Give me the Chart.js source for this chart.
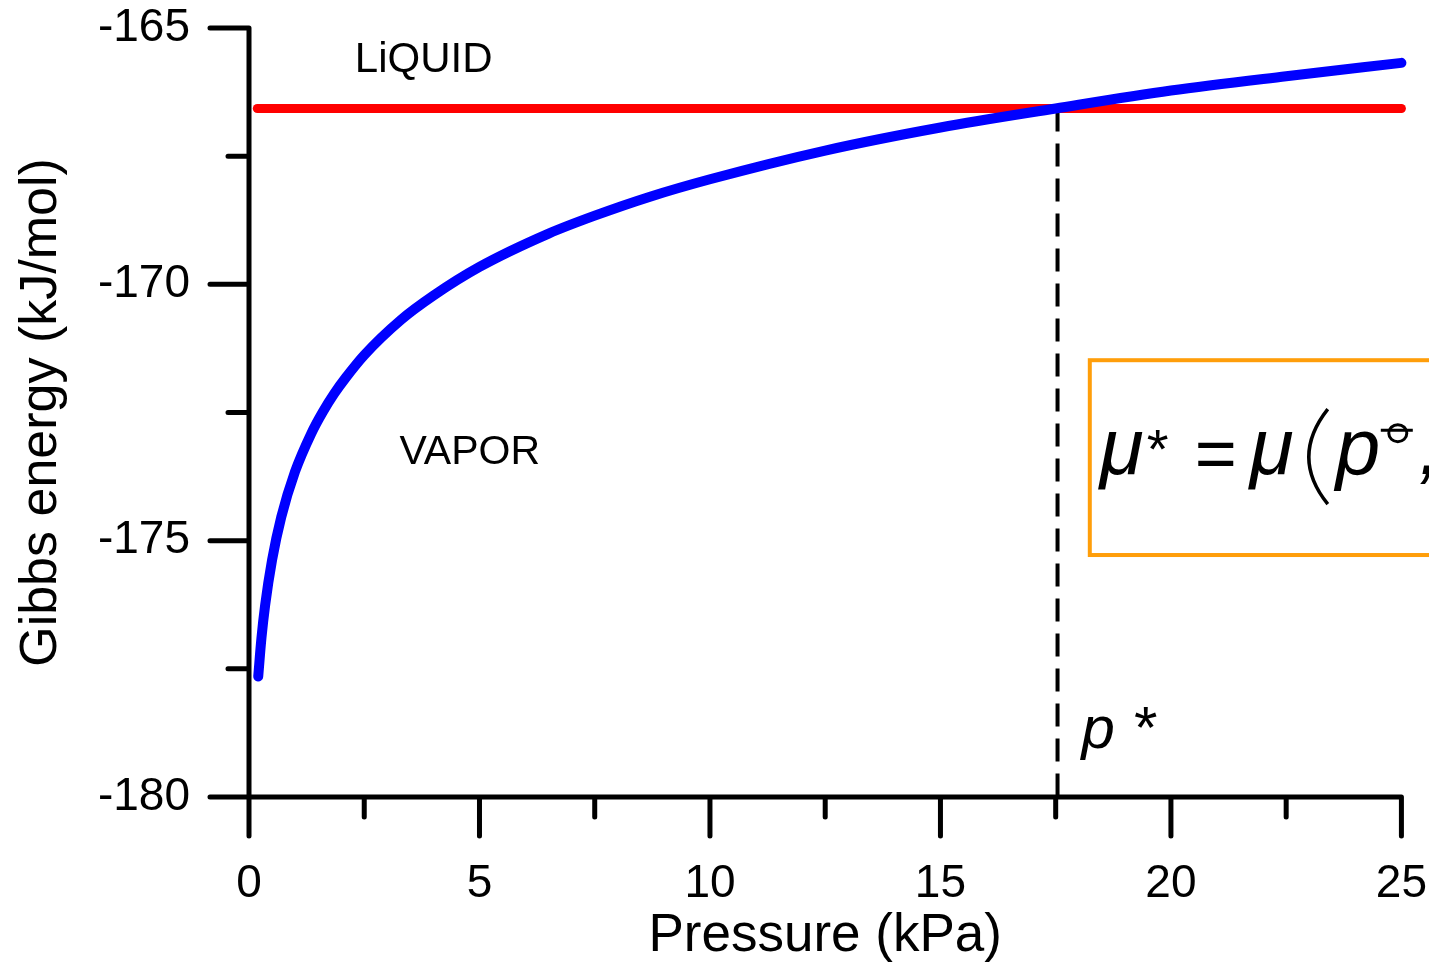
<!DOCTYPE html>
<html>
<head>
<meta charset="utf-8">
<script src="https://cdn.jsdelivr.net/npm/chart.js@4"></script>
<style>
  body { margin: 0; background: #fff; }
  #wrap { width: 1429px; height: 963px; }
</style>
</head>
<body>
<div id="wrap"><canvas id="gibbsChart" width="1429" height="963"></canvas></div>
<script>
// values
const vaporP = [0.2, 0.27, 0.35, 0.5, 0.7, 1, 1.35, 1.6, 1.85, 2.1, 2.5, 3.3, 4, 5, 6.5, 7.5, 8.7, 10, 12.5, 15, 17.5, 20, 22.5, 25];
const vaporG = [-177.65, -176.9, -176.26, -175.38, -174.54, -173.65, -172.91, -172.49, -172.13, -171.82, -171.38, -170.69, -170.22, -169.66, -169.01, -168.66, -168.29, -167.95, -167.39, -166.94, -166.57, -166.22, -165.94, -165.68];
const liquidP = [0.18, 25];
const liquidG = [-166.57, -166.57];
const pStar = 17.54;
const xRange = [0, 25];
const yRange = [-180, -165];
const majorStep = 5;
const minorStep = 2.5;

const FONT = '"Liberation Sans", Arial, sans-serif';

// axes lines + major/minor ticks (different lengths)
const axisPlugin = {
    id: 'axisPlugin',
    beforeDatasetsDraw(chart) {
        const { ctx, scales: { x, y } } = chart;
        const x0 = x.getPixelForValue(xRange[0]);
        const x1 = x.getPixelForValue(xRange[1]);
        const y0 = y.getPixelForValue(yRange[0]);
        const y1 = y.getPixelForValue(yRange[1]);
        ctx.save();
        ctx.strokeStyle = '#000';
        ctx.lineWidth = 5;
        ctx.lineCap = 'round';
        ctx.lineJoin = 'round';
        ctx.beginPath();
        ctx.moveTo(x0, y1);
        ctx.lineTo(x0, y0);
        ctx.lineTo(x1, y0);
        x.ticks.forEach(t => {
            const px = x.getPixelForValue(t.value);
            const len = Math.abs(t.value % majorStep) < 1e-6 ? 39 : 20;
            ctx.moveTo(px, y0);
            ctx.lineTo(px, y0 + len);
        });
        y.ticks.forEach(t => {
            const py = y.getPixelForValue(t.value);
            const len = Math.abs(t.value % majorStep) < 1e-6 ? 39 : 21;
            ctx.moveTo(x0, py);
            ctx.lineTo(x0 - len, py);
        });
        ctx.stroke();
        ctx.restore();
    }
};

// text labels and the formula box
const notesPlugin = {
    id: 'notesPlugin',
    afterDatasetsDraw(chart) {
        const { ctx, scales: { x, y } } = chart;
        ctx.save();
        ctx.fillStyle = '#000';
        ctx.textAlign = 'center';
        ctx.textBaseline = 'middle';
        ctx.font = '42px ' + FONT;
        ctx.fillText('LiQUID', x.getPixelForValue(3.79), y.getPixelForValue(-165.64));
        ctx.font = '41px ' + FONT;
        ctx.fillText('VAPOR', x.getPixelForValue(4.79), y.getPixelForValue(-173.29));

        // p* label
        ctx.textAlign = 'left';
        ctx.textBaseline = 'alphabetic';
        ctx.font = 'italic 60px ' + FONT;
        ctx.fillText('p *', x.getPixelForValue(18.06), y.getPixelForValue(-179.04));

        // orange box
        const bx = x.getPixelForValue(18.24);
        const by = y.getPixelForValue(-171.48);
        const bb = y.getPixelForValue(-175.28);
        ctx.strokeStyle = 'rgb(255,158,10)';
        ctx.lineWidth = 4;
        ctx.strokeRect(bx, by, 500, bb - by);

        // formula  mu* = mu(p°,
        const base = by + 114;
        ctx.fillStyle = '#000';
        ctx.font = 'italic 80px ' + FONT;
        ctx.fillText('\u03bc', bx + 10, base);
        ctx.font = '56px ' + FONT;
        ctx.fillText('*', bx + 57, base - 6);
        ctx.font = '72px ' + FONT;
        ctx.fillText('=', bx + 105, base + 4);
        ctx.font = 'italic 80px ' + FONT;
        ctx.fillText('\u03bc', bx + 160, base);
        ctx.strokeStyle = '#000';
        ctx.lineWidth = 3.5;
        ctx.beginPath();
        ctx.moveTo(bx + 238, base - 65);
        ctx.quadraticCurveTo(bx + 200, base - 17, bx + 238, base + 30);
        ctx.stroke();
        ctx.fillText('p', bx + 246, base);
        ctx.lineWidth = 3;
        ctx.beginPath();
        ctx.ellipse(bx + 308, base - 41, 9, 8.5, 0, 0, Math.PI * 2);
        ctx.moveTo(bx + 291, base - 44);
        ctx.lineTo(bx + 323, base - 44);
        ctx.stroke();
        ctx.fillText(',', bx + 329, base);
        ctx.restore();
    }
};

const toXY = (xs, ys) => xs.map((v, i) => ({ x: v, y: ys[i] }));

new Chart(document.getElementById('gibbsChart'), {
    type: 'line',
    data: {
        datasets: [
            {
                label: 'vapor',
                data: toXY(vaporP, vaporG),
                borderColor: '#0000ff',
                borderWidth: 10,
                borderCapStyle: 'round',
                pointRadius: 0,
                cubicInterpolationMode: 'monotone',
                clip: 12
            },
            {
                label: 'liquid',
                data: toXY(liquidP, liquidG),
                borderColor: '#ff0000',
                borderWidth: 9,
                borderCapStyle: 'round',
                pointRadius: 0,
                clip: 12
            },
            {
                label: 'p*',
                data: toXY([pStar, pStar], [liquidG[0], yRange[0]]),
                borderColor: '#000',
                borderWidth: 4,
                borderDash: [23, 12],
                pointRadius: 0,
                clip: 12
            }
        ]
    },
    options: {
        responsive: false,
        animation: false,
        layout: { padding: { top: 28, right: 27, left: 0, bottom: 0 } },
        plugins: {
            legend: { display: false },
            tooltip: { enabled: false }
        },
        scales: {
            x: {
                type: 'linear',
                min: xRange[0],
                max: xRange[1],
                // invisible tick marks only reserve room; real ticks come from axisPlugin
                grid: { display: true, drawOnChartArea: false, tickLength: 62, tickColor: 'rgba(0,0,0,0)' },
                border: { display: false },
                ticks: {
                    stepSize: minorStep,
                    autoSkip: false,
                    maxRotation: 0,
                    padding: 2,
                    color: '#000',
                    font: { family: FONT, size: 46, lineHeight: 1 },
                    callback: v => (Math.abs(v % majorStep) < 1e-6 ? String(v) : '')
                },
                title: {
                    display: true,
                    text: 'Pressure (kPa)',
                    color: '#000',
                    padding: 0,
                    font: { family: FONT, size: 53, lineHeight: 1 }
                },
                afterFit: scale => { scale.height = 166; }
            },
            y: {
                type: 'linear',
                min: yRange[0],
                max: yRange[1],
                grid: { display: true, drawOnChartArea: false, tickLength: 57, tickColor: 'rgba(0,0,0,0)' },
                border: { display: false },
                ticks: {
                    stepSize: minorStep,
                    autoSkip: false,
                    padding: 2,
                    color: '#000',
                    font: { family: FONT, size: 46, lineHeight: 1 },
                    callback: v => (Math.abs(v % majorStep) < 1e-6 ? String(v) : '')
                },
                title: {
                    display: true,
                    text: 'Gibbs energy (kJ/mol)',
                    color: '#000',
                    padding: { top: 16, bottom: 0 },
                    font: { family: FONT, size: 52, lineHeight: 1 }
                },
                afterFit: scale => { scale.width = 249; }
            }
        }
    },
    plugins: [axisPlugin, notesPlugin]
});
</script>
</body>
</html>
